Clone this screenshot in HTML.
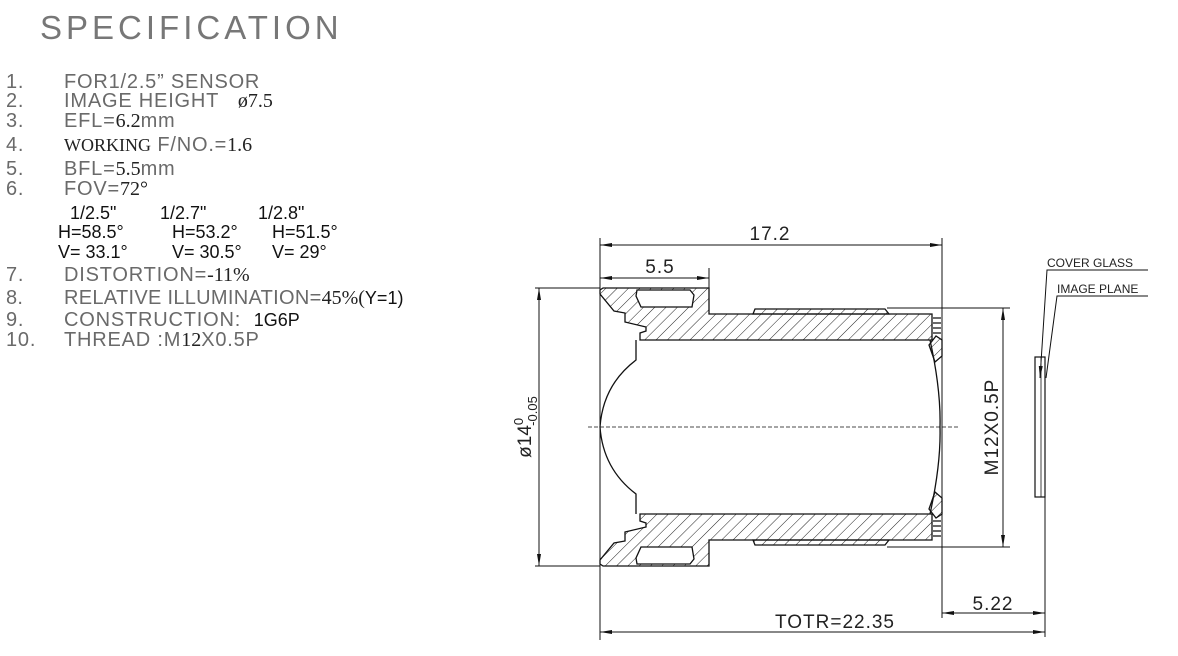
<!DOCTYPE html>
<html><head><meta charset="utf-8"><style>
html,body{margin:0;padding:0;background:#fff;}
body{width:1178px;height:656px;position:relative;overflow:hidden;font-family:"Liberation Sans",sans-serif;}
.t{position:absolute;white-space:nowrap;color:#6a6a6a;font-size:20px;letter-spacing:0.8px;line-height:20px;}
.n{position:absolute;left:6px;}
.v{position:absolute;left:64px;}
.s{font-family:"Liberation Serif",serif;color:#222;letter-spacing:0;}
.b{position:absolute;color:#111;letter-spacing:0;font-size:18px;line-height:20px;white-space:nowrap;}
</style></head><body>
<div class="t" style="left:40px;top:10px;font-size:33px;line-height:36px;letter-spacing:4px;color:#777;">SPECIFICATION</div>
<div class="t" style="top:72px;left:0;"><span class="n">1.</span><span class="v">FOR1/2.5” SENSOR</span></div>
<div class="t" style="top:91px;left:0;"><span class="n">2.</span><span class="v">IMAGE HEIGHT &nbsp;&nbsp;<span class="s">ø7.5</span></span></div>
<div class="t" style="top:111px;left:0;"><span class="n">3.</span><span class="v">EFL=<span class="s">6.2</span>mm</span></div>
<div class="t" style="top:135px;left:0;"><span class="n">4.</span><span class="v"><span class="s" style="font-size:18px">WORKING</span> F/NO.=<span class="s">1.6</span></span></div>
<div class="t" style="top:159px;left:0;"><span class="n">5.</span><span class="v">BFL=<span class="s">5.5</span>mm</span></div>
<div class="t" style="top:179px;left:0;"><span class="n">6.</span><span class="v">FOV=<span class="s">72°</span></span></div>
<div class="b" style="top:203px;left:70px;">1/2.5"</div><div class="b" style="top:203px;left:160px;">1/2.7"</div><div class="b" style="top:203px;left:258px;">1/2.8"</div>
<div class="b" style="top:222px;left:58px;">H=58.5°</div><div class="b" style="top:222px;left:172px;">H=53.2°</div><div class="b" style="top:222px;left:272px;">H=51.5°</div>
<div class="b" style="top:242px;left:58px;">V= 33.1°</div><div class="b" style="top:242px;left:172px;">V= 30.5°</div><div class="b" style="top:242px;left:272px;">V= 29°</div>
<div class="t" style="top:265px;left:0;"><span class="n">7.</span><span class="v">DISTORTION=<span class="s">-11%</span></span></div>
<div class="t" style="top:288px;left:0;letter-spacing:0.3px;"><span class="n">8.</span><span class="v">RELATIVE ILLUMINATION=<span class="s">45%(</span><span style="color:#111;letter-spacing:0;font-size:18px">Y=1)</span></span></div>
<div class="t" style="top:310px;left:0;"><span class="n">9.</span><span class="v">CONSTRUCTION: &nbsp;<span style="color:#111;letter-spacing:0;font-size:18px">1G6P</span></span></div>
<div class="t" style="top:330px;left:0;"><span class="n">10.</span><span class="v">THREAD :M<span class="s">12</span>X0.5P</span></div>

<svg width="1178" height="656" style="position:absolute;left:0;top:0" xmlns="http://www.w3.org/2000/svg">
<defs>
<pattern id="h1" patternUnits="userSpaceOnUse" width="8" height="8" patternTransform="rotate(45)"><line x1="0" y1="0" x2="0" y2="8" stroke="#222" stroke-width="1"/></pattern>
<pattern id="h2" patternUnits="userSpaceOnUse" width="8" height="8" patternTransform="rotate(-45)"><line x1="0" y1="0" x2="0" y2="8" stroke="#222" stroke-width="1"/></pattern>
<marker id="a" markerWidth="12" markerHeight="6" refX="12" refY="3" orient="auto" markerUnits="userSpaceOnUse"><path d="M0,1 L12,3 L0,5z" fill="#111"/></marker>
<marker id="as" markerWidth="12" markerHeight="6" refX="0" refY="3" orient="auto" markerUnits="userSpaceOnUse"><path d="M12,1 L0,3 L12,5z" fill="#111"/></marker>
</defs>
<g stroke="#111" stroke-width="1.3" fill="none">
<g>
<polygon points="600,290 603,288 709,288 709,314 932,314 932,340 640,340 640,333 646,331 646,327 625,322 625,313 614,311 600,294" fill="url(#h1)"/>
<polygon points="637,290 690,290 694,295 692,307 641,307 636,296" fill="#fff"/>
<path d="M753,314 L755,309 L885,309 L889,314 Z" fill="url(#h1)"/>
<path d="M636,340 L636,360 Q603,385 600,427"/>
<path d="M930,340 Q941,390 940,427"/>
<path d="M929,345 L936,336 L942,340 L942,356 L935,362 Z" fill="url(#h1)"/>
<path d="M933,318 H941 M933,323 H941 M933,328 H941 M933,333 H941"/>
</g>
<g transform="translate(0,854) scale(1,-1)">
<polygon points="600,290 603,288 709,288 709,314 932,314 932,340 640,340 640,333 646,331 646,327 625,322 625,313 614,311 600,294" fill="url(#h2)"/>
<polygon points="637,290 690,290 694,295 692,307 641,307 636,296" fill="#fff"/>
<path d="M753,314 L755,309 L885,309 L889,314 Z" fill="url(#h2)"/>
<path d="M636,340 L636,360 Q603,385 600,427"/>
<path d="M930,340 Q941,390 940,427"/>
<path d="M929,345 L936,336 L942,340 L942,356 L935,362 Z" fill="url(#h2)"/>
<path d="M933,318 H941 M933,323 H941 M933,328 H941 M933,333 H941"/>
</g>
</g>
<g stroke="#111" stroke-width="1" fill="none">
<line x1="588" y1="427" x2="958" y2="427" stroke-dasharray="4,2" stroke-width="0.8"/>
<line x1="600" y1="238" x2="600" y2="640"/>
<line x1="942" y1="238" x2="942" y2="618"/>
<line x1="709" y1="268" x2="709" y2="288"/>
<line x1="535" y1="288" x2="600" y2="288"/>
<line x1="535" y1="566" x2="600" y2="566"/>
<line x1="887" y1="308" x2="1010" y2="308"/>
<line x1="887" y1="547" x2="1010" y2="547"/>
<line x1="1045" y1="497" x2="1045" y2="637"/>
<line x1="600" y1="245" x2="942" y2="245" marker-start="url(#as)" marker-end="url(#a)"/>
<line x1="600" y1="278" x2="709" y2="278" marker-start="url(#as)" marker-end="url(#a)"/>
<line x1="539" y1="288" x2="539" y2="566" marker-start="url(#as)" marker-end="url(#a)"/>
<line x1="1003" y1="308" x2="1003" y2="547" marker-start="url(#as)" marker-end="url(#a)"/>
<line x1="942" y1="613" x2="1045" y2="613" marker-start="url(#as)" marker-end="url(#a)"/>
<line x1="600" y1="632" x2="1045" y2="632" marker-start="url(#as)" marker-end="url(#a)"/>
<rect x="1035" y="357" width="10" height="140" stroke-width="1.2"/>
<line x1="1041" y1="357" x2="1041" y2="497" stroke-width="0.8"/>
<polyline points="1148,270 1047,270 1040,378" marker-end="url(#a)"/>
<polyline points="1148,296 1057,296 1046,378"/>
</g>
<g font-family="Liberation Sans, sans-serif" fill="#222" font-size="19">
<text x="770" y="240" text-anchor="middle" letter-spacing="1">17.2</text>
<text x="660" y="273" text-anchor="middle" letter-spacing="1">5.5</text>
<text x="993" y="610" text-anchor="middle" letter-spacing="1">5.22</text>
<text x="835" y="628" text-anchor="middle" letter-spacing="1">TOTR=22.35</text>
<text transform="translate(998,427) rotate(-90)" text-anchor="middle" letter-spacing="1">M12X0.5P</text>
<text transform="translate(531,427) rotate(-90)" text-anchor="middle">ø14<tspan font-size="13" dy="-8">0</tspan><tspan font-size="13" dx="-8" dy="14">-0.05</tspan></text>
<text x="1047" y="267" font-size="12">COVER GLASS</text>
<text x="1057" y="293" font-size="12">IMAGE PLANE</text>
</g>
</svg>
</body></html>
